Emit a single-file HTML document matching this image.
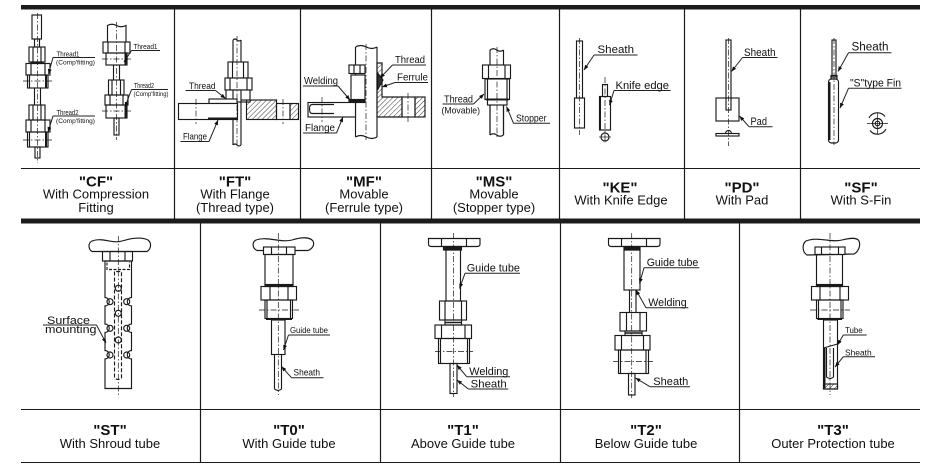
<!DOCTYPE html>
<html><head><meta charset="utf-8">
<style>
html,body{margin:0;padding:0;background:#fff;}
body{width:945px;height:471px;overflow:hidden;}
svg{display:block;}
.cap{font-family:"Liberation Sans",Arial,sans-serif;fill:#111;text-anchor:middle;}
.b{font-weight:bold;font-size:15px;}
.n{font-size:13px;}
.l{font-family:"Liberation Sans",Arial,sans-serif;fill:#111;}
</style></head>
<body>
<svg width="945" height="471" viewBox="0 0 945 471" xmlns="http://www.w3.org/2000/svg">
<defs>
<pattern id="h" width="3.5" height="3.5" patternUnits="userSpaceOnUse" patternTransform="rotate(45)">
<line x1="0" y1="0" x2="0" y2="3.5" stroke="#222" stroke-width="0.9"/></pattern>
<marker id="a" markerUnits="userSpaceOnUse" markerWidth="5" markerHeight="4" refX="5" refY="2" orient="auto">
<path d="M0,0 L5,2 L0,4 z" fill="#111"/></marker>
</defs>
<rect width="945" height="471" fill="#fff"/>

<!-- grid -->
<rect x="21" y="5" width="899" height="4.5" fill="#1c1c1c"/>
<rect x="21" y="218.5" width="899" height="5" fill="#1c1c1c"/>
<g stroke="#1a1a1a" stroke-width="1.2">
<line x1="174.5" y1="9" x2="174.5" y2="219"/>
<line x1="300.5" y1="9" x2="300.5" y2="219"/>
<line x1="431.5" y1="9" x2="431.5" y2="219"/>
<line x1="559.5" y1="9" x2="559.5" y2="219"/>
<line x1="684.5" y1="9" x2="684.5" y2="219"/>
<line x1="800.5" y1="9" x2="800.5" y2="219"/>
<line x1="200.5" y1="223" x2="200.5" y2="463"/>
<line x1="380.5" y1="223" x2="380.5" y2="463"/>
<line x1="560.5" y1="223" x2="560.5" y2="463"/>
<line x1="739.5" y1="223" x2="739.5" y2="463"/>
</g>
<g stroke="#1a1a1a" stroke-width="1">
<line x1="21" y1="168.5" x2="920" y2="168.5"/>
<line x1="21" y1="409.5" x2="920" y2="409.5"/>
<line x1="21" y1="462.5" x2="920" y2="462.5"/>
</g>

<!-- captions -->
<g class="cap">
<text class="b" x="96" y="186.5">"CF"</text>
<text class="n" x="96" y="198.7">With Compression</text>
<text class="n" x="96" y="212">Fitting</text>
<text class="b" x="235" y="186.5">"FT"</text>
<text class="n" x="235" y="198.7">With Flange</text>
<text class="n" x="235" y="212">(Thread type)</text>
<text class="b" x="364" y="186.5">"MF"</text>
<text class="n" x="364" y="198.7">Movable</text>
<text class="n" x="364" y="212">(Ferrule type)</text>
<text class="b" x="494" y="186.5">"MS"</text>
<text class="n" x="494" y="198.7">Movable</text>
<text class="n" x="494" y="212">(Stopper type)</text>
<text class="b" x="620" y="192.5">"KE"</text>
<text class="n" x="621" y="204.5">With Knife Edge</text>
<text class="b" x="742" y="192.5">"PD"</text>
<text class="n" x="742" y="204.5">With Pad</text>
<text class="b" x="861" y="192.5">"SF"</text>
<text class="n" x="861" y="204.5">With S-Fin</text>

<text class="b" x="110" y="435">"ST"</text>
<text class="n" x="110" y="448">With Shroud tube</text>
<text class="b" x="289" y="435">"T0"</text>
<text class="n" x="289" y="448">With Guide tube</text>
<text class="b" x="463" y="435">"T1"</text>
<text class="n" x="463" y="448">Above Guide tube</text>
<text class="b" x="646" y="435">"T2"</text>
<text class="n" x="646" y="448">Below Guide tube</text>
<text class="b" x="833" y="435">"T3"</text>
<text class="n" x="833" y="448">Outer Protection tube</text>
</g>

<!-- ============ drawings ============ -->
<g stroke="#1a1a1a" stroke-width="1.15" fill="none">

<!-- CF left -->
<rect x="32" y="15" width="9.5" height="24"/>
<rect x="34.5" y="39" width="5" height="8"/>
<rect x="29" y="47" width="16" height="15"/><line x1="33" y1="47" x2="33" y2="62"/><line x1="41" y1="47" x2="41" y2="62"/>
<rect x="31" y="62" width="12" height="1.5" fill="#1a1a1a"/>
<rect x="26" y="63.5" width="24" height="11.5"/><line x1="31" y1="63.5" x2="31" y2="75"/><line x1="45" y1="63.5" x2="45" y2="75"/>
<rect x="27.5" y="75" width="20.5" height="13"/><line x1="29.5" y1="75" x2="29.5" y2="88"/><line x1="46" y1="75" x2="46" y2="88" stroke-width="2"/>
<line x1="34.5" y1="88" x2="34.5" y2="105"/><line x1="40.5" y1="88" x2="40.5" y2="105"/>
<rect x="29" y="105" width="16" height="15"/><line x1="33" y1="105" x2="33" y2="120"/><line x1="41" y1="105" x2="41" y2="120"/>
<rect x="26" y="120" width="24" height="12"/><line x1="31" y1="120" x2="31" y2="132"/><line x1="45" y1="120" x2="45" y2="132"/>
<rect x="27.5" y="132" width="20.5" height="15"/><line x1="29.5" y1="132" x2="29.5" y2="147"/><line x1="46" y1="132" x2="46" y2="147" stroke-width="2"/>
<rect x="35" y="147" width="5" height="11"/>
<g stroke-width="0.7" stroke-dasharray="6 2 1.5 2"><line x1="37.5" y1="13" x2="37.5" y2="163"/><line x1="23" y1="81" x2="52" y2="81"/><line x1="23" y1="140" x2="52" y2="140"/></g>

<!-- CF right -->
<path d="M107.5,42 V25.5 q4.5,-2.5 9,0 t9.5,0 V42"/>
<rect x="103" y="42" width="27" height="11"/><line x1="108" y1="42" x2="108" y2="53"/><line x1="125" y1="42" x2="125" y2="53"/>
<rect x="106" y="53" width="21" height="12"/><line x1="125.5" y1="53" x2="125.5" y2="65" stroke-width="2"/>
<line x1="113.5" y1="65" x2="113.5" y2="80"/><line x1="119.5" y1="65" x2="119.5" y2="80"/>
<rect x="108.5" y="80" width="15.5" height="15"/><line x1="112" y1="80" x2="112" y2="95"/><line x1="120.5" y1="80" x2="120.5" y2="95"/>
<rect x="105" y="95" width="23" height="10"/><line x1="110" y1="95" x2="110" y2="105"/><line x1="123" y1="95" x2="123" y2="105"/>
<rect x="106" y="105" width="21" height="13"/><line x1="125.5" y1="105" x2="125.5" y2="118" stroke-width="2"/>
<rect x="114" y="118" width="5" height="17"/>
<g stroke-width="0.7" stroke-dasharray="6 2 1.5 2"><line x1="116.5" y1="22" x2="116.5" y2="140"/><line x1="102" y1="59" x2="131" y2="59"/><line x1="102" y1="111" x2="131" y2="111"/></g>

<!-- FT -->
<path d="M233,40 q2,-2 4,0 t4,0"/><path d="M233,145 q2,-2 4,0 t4,0"/>
<line x1="233" y1="40" x2="233" y2="145"/><line x1="241" y1="40" x2="241" y2="145"/>
<rect x="228" y="62" width="20" height="16" fill="#fff"/><line x1="232.5" y1="62" x2="232.5" y2="78"/><line x1="243.5" y1="62" x2="243.5" y2="78"/>
<rect x="225" y="78" width="27" height="12" fill="#fff"/><line x1="230" y1="78" x2="230" y2="90"/><line x1="247" y1="78" x2="247" y2="90"/>
<rect x="226" y="90" width="24" height="12" fill="#fff"/><line x1="233" y1="90" x2="233" y2="102"/><line x1="241" y1="90" x2="241" y2="102"/>
<rect x="209" y="99" width="28" height="4.5" fill="#fff"/>
<rect x="178.5" y="103.5" width="59" height="16" fill="#fff"/>
<line x1="208" y1="118.5" x2="238" y2="118.5" stroke-width="2"/>
<rect x="246.5" y="100" width="30" height="19.5" fill="url(#h)"/>
<rect x="276.5" y="103.5" width="13.5" height="16"/>
<rect x="290" y="103.5" width="8.5" height="16" fill="url(#h)"/>
<line x1="241" y1="100" x2="246.5" y2="100"/>
<g stroke-width="0.7" stroke-dasharray="6 2 1.5 2"><line x1="237" y1="36" x2="237" y2="148"/><line x1="196" y1="99" x2="196" y2="124"/><line x1="283" y1="99" x2="283" y2="124"/></g>

<!-- MF -->
<path d="M355.5,47 q5,-3 10.75,0 t10.75,0"/><path d="M355.5,137 q5,-3 10.75,0 t10.75,0"/>
<line x1="355.5" y1="47" x2="355.5" y2="137"/><line x1="377" y1="47" x2="377" y2="137"/>
<rect x="349" y="65" width="16" height="8.5" fill="#fff"/><line x1="354" y1="65" x2="354" y2="73.5"/><line x1="360" y1="65" x2="360" y2="73.5"/>
<rect x="351" y="75" width="14" height="25" fill="#fff"/>
<rect x="349" y="99.5" width="16" height="3" fill="#1a1a1a"/>
<rect x="308" y="102.5" width="47.5" height="14.5" fill="#fff"/>
<path d="M334,104.5 H312 q-2.5,0 -2.5,4.5 q0,4.5 2.5,4.5 H334"/>
<path d="M377,63 H382 V97 H402 V117 H377 Z" fill="url(#h)"/>
<rect x="402" y="97" width="13" height="20"/>
<rect x="415" y="97" width="10" height="20" fill="url(#h)"/>
<path d="M377.5,73 L383,80 L377.5,90 Z" fill="#333"/>
<g stroke-width="0.7" stroke-dasharray="6 2 1.5 2"><line x1="366" y1="44" x2="366" y2="140"/><line x1="322" y1="97" x2="322" y2="122"/><line x1="408" y1="93" x2="408" y2="122"/></g>

<!-- MS -->
<path d="M490,50 q3.4,-2.5 6.75,0 t6.75,0"/><path d="M490,135 q3.4,-2.5 6.75,0 t6.75,0"/>
<line x1="490" y1="50" x2="490" y2="135"/><line x1="503.5" y1="50" x2="503.5" y2="135"/>
<rect x="482.5" y="65" width="28" height="13.5" fill="#fff"/><line x1="488.5" y1="65" x2="488.5" y2="78.5"/><line x1="505" y1="65" x2="505" y2="78.5"/>
<rect x="485" y="79" width="24.5" height="20.5" fill="#fff"/><line x1="487.5" y1="79" x2="487.5" y2="99.5"/><line x1="507" y1="79" x2="507" y2="99.5"/>
<rect x="487.5" y="99.5" width="19.5" height="5.5" fill="#fff"/><line x1="486" y1="99.5" x2="508.5" y2="99.5" stroke-width="2"/>
<line x1="490" y1="105" x2="490" y2="135"/><line x1="503.5" y1="105" x2="503.5" y2="135"/>
<g stroke-width="0.7" stroke-dasharray="6 2 1.5 2"><line x1="497" y1="47" x2="497" y2="138"/></g>

<!-- KE -->
<rect x="576.5" y="41" width="6" height="57"/>
<rect x="574.5" y="98" width="10" height="30"/>
<rect x="602.5" y="84.5" width="5" height="12"/>
<rect x="599.5" y="96.5" width="11" height="33.5"/><line x1="600" y1="96.5" x2="600" y2="130" stroke-width="2"/>
<circle cx="605" cy="137" r="4"/><line x1="599" y1="137" x2="611" y2="137" stroke-width="0.7"/>
<g stroke-width="0.7" stroke-dasharray="6 2 1.5 2"><line x1="579.5" y1="38" x2="579.5" y2="135"/><line x1="605" y1="77" x2="605" y2="143"/></g>

<!-- PD -->
<rect x="726" y="40" width="5" height="70"/>
<rect x="716" y="98" width="23" height="23"/>
<path d="M725.5,133.5 a3,3 0 0 1 6,0"/>
<rect x="716" y="133.5" width="23" height="2.5"/>
<g stroke-width="0.7" stroke-dasharray="6 2 1.5 2"><line x1="728.5" y1="38" x2="728.5" y2="146"/></g>

<!-- SF -->
<rect x="832" y="40" width="4" height="37"/>
<rect x="831" y="75.5" width="6" height="3.5"/>
<rect x="828.5" y="79" width="10" height="64" rx="3"/>
<line x1="829.5" y1="82" x2="829.5" y2="140" stroke-width="2"/>
<circle cx="877.5" cy="123.5" r="5"/><circle cx="877.5" cy="123.5" r="2.3"/>
<path d="M869,118 a9.5,9.5 0 0 1 16,-1.5 M886,129 a9.5,9.5 0 0 1 -16,1.5"/>
<line x1="867" y1="123.5" x2="888" y2="123.5" stroke-width="0.7"/><line x1="877.5" y1="113" x2="877.5" y2="134" stroke-width="0.7"/>
<g stroke-width="0.7" stroke-dasharray="6 2 1.5 2"><line x1="834" y1="38" x2="834" y2="145"/></g>

<!-- ST -->
<path d="M92,251.5 C88,249 88,243 92,241 C103,237 112,244 122,241 C132,238 142,237 148,240 C152,243 151,249 147,251.5 Z" fill="#fff"/>
<rect x="102.5" y="251.5" width="30" height="9.5"/><line x1="110" y1="251.5" x2="110" y2="261"/><line x1="125" y1="251.5" x2="125" y2="261"/>
<path d="M105,261 V297.5 a4,4 0 0 1 0,8.5 V324 a4,4 0 0 1 0,8.5 V350.5 a4,4 0 0 1 0,8.5 V388.5 H131.5 V359 a4,4 0 0 1 0,-8.5 V332.5 a4,4 0 0 1 0,-8.5 V306 a4,4 0 0 1 0,-8.5 V261 Z"/>
<circle cx="110" cy="301.7" r="3"/><circle cx="126.7" cy="301.7" r="3"/>
<circle cx="110" cy="328.3" r="3"/><circle cx="126.7" cy="328.3" r="3"/>
<circle cx="110" cy="355" r="3"/><circle cx="126.7" cy="355" r="3"/>
<circle cx="118.3" cy="288.3" r="3"/><circle cx="118.3" cy="313.3" r="3"/><circle cx="118.3" cy="340" r="3"/>
<path d="M107,262.5 v7 h22.5 v-7" stroke-dasharray="3 1.5"/>
<path d="M114.5,271.5 V378 q3.5,3 7,0 V271.5 Z" stroke-dasharray="4 2"/>
<g stroke-width="0.7" stroke-dasharray="6 2 1.5 2"><line x1="118.3" y1="236" x2="118.3" y2="395"/></g>

<!-- T0 -->
<path d="M257,250.5 C252,248 252,242 256,240 C268,236 280,243 292,240 C302,237 310,237 313,241 C315,245 312,249 308,250.5 Z" fill="#fff"/>
<rect x="263.5" y="247" width="31.5" height="7.5" fill="#fff"/><line x1="271.5" y1="247" x2="271.5" y2="254.5"/><line x1="286.5" y1="247" x2="286.5" y2="254.5"/>
<rect x="265" y="254.5" width="28" height="30.5"/>
<rect x="265" y="284.5" width="28" height="2" fill="#1a1a1a"/>
<rect x="261" y="286.5" width="35.5" height="13.5"/><line x1="270" y1="286.5" x2="270" y2="300"/><line x1="288" y1="286.5" x2="288" y2="300"/>
<rect x="265" y="300" width="27.5" height="18.5"/><line x1="267" y1="300" x2="267" y2="318.5"/><line x1="290.5" y1="300" x2="290.5" y2="318.5"/>
<line x1="266" y1="319" x2="292" y2="319" stroke-width="2"/>
<rect x="271.5" y="320" width="13.5" height="34.5"/>
<path d="M274.5,354.5 V389 q3.5,3 7,0 V354.5"/>
<g stroke-width="0.7" stroke-dasharray="6 2 1.5 2"><line x1="278.3" y1="233" x2="278.3" y2="395"/><line x1="259" y1="310" x2="299" y2="310"/></g>

<!-- T1 -->
<path d="M428.5,238.5 H480 V244 q0,2.5 -3,2.5 H431.5 q-3,0 -3,-2.5 Z"/><line x1="441.5" y1="238.5" x2="441.5" y2="246.5"/><line x1="466.5" y1="238.5" x2="466.5" y2="246.5"/>
<rect x="443.5" y="246.5" width="18" height="3.5" fill="#1a1a1a"/>
<rect x="446" y="250" width="14.5" height="51"/>
<rect x="439.5" y="301" width="27" height="19"/><line x1="445" y1="301" x2="445" y2="320"/><line x1="461.5" y1="301" x2="461.5" y2="320"/>
<rect x="445" y="320" width="16.5" height="5"/><line x1="445" y1="322.5" x2="461.5" y2="322.5" stroke-width="1.5"/>
<rect x="435" y="325" width="36.5" height="13.5"/><line x1="441.5" y1="325" x2="441.5" y2="338.5"/><line x1="465" y1="325" x2="465" y2="338.5"/>
<rect x="438.5" y="338.5" width="31" height="25"/><line x1="440.5" y1="338.5" x2="440.5" y2="363.5"/><line x1="467.5" y1="338.5" x2="467.5" y2="363.5"/>
<rect x="450" y="363.5" width="7" height="30"/>
<g stroke-width="0.7" stroke-dasharray="6 2 1.5 2"><line x1="453.5" y1="233" x2="453.5" y2="397"/><line x1="435" y1="351.5" x2="473" y2="351.5"/></g>

<!-- T2 -->
<path d="M608.5,238.5 H660 V244 q0,2.5 -3,2.5 H611.5 q-3,0 -3,-2.5 Z"/><line x1="621.5" y1="238.5" x2="621.5" y2="246.5"/><line x1="646.5" y1="238.5" x2="646.5" y2="246.5"/>
<rect x="624" y="246.5" width="16" height="3.5" fill="#1a1a1a"/>
<rect x="624" y="250" width="16" height="40"/>
<line x1="629.5" y1="290" x2="629.5" y2="312.5"/><line x1="636" y1="290" x2="636" y2="312.5"/>
<rect x="620" y="312.5" width="26.5" height="18.5"/><line x1="626.5" y1="312.5" x2="626.5" y2="331"/><line x1="640" y1="312.5" x2="640" y2="331"/>
<rect x="625" y="331" width="17" height="4.5"/><line x1="625" y1="333" x2="642" y2="333" stroke-width="1.5"/>
<rect x="615" y="335.5" width="35" height="14.5"/><line x1="621.5" y1="335.5" x2="621.5" y2="350"/><line x1="643.5" y1="335.5" x2="643.5" y2="350"/>
<rect x="618.5" y="350" width="30" height="23.5"/><line x1="620.5" y1="350" x2="620.5" y2="373.5"/><line x1="646" y1="350" x2="646" y2="373.5"/>
<rect x="628.5" y="373.5" width="6.5" height="21.5"/>
<g stroke-width="0.7" stroke-dasharray="6 2 1.5 2"><line x1="631.7" y1="233" x2="631.7" y2="398"/><line x1="613" y1="361.5" x2="653" y2="361.5"/></g>

<!-- T3 -->
<path d="M807,255 C802,252 802,244 806,241 C818,236 830,243 842,240 C850,238 857,237 859,241 C861,246 858,252 854,254 Z" fill="#fff"/>
<rect x="815" y="247" width="30" height="7.5" fill="#fff"/><line x1="821.5" y1="247" x2="821.5" y2="254.5"/><line x1="838.5" y1="247" x2="838.5" y2="254.5"/>
<rect x="816.5" y="254.5" width="26" height="30.5"/>
<rect x="816.5" y="284.5" width="26" height="2" fill="#1a1a1a"/>
<rect x="811.5" y="286.5" width="37" height="13.5"/><line x1="820" y1="286.5" x2="820" y2="300"/><line x1="840" y1="286.5" x2="840" y2="300"/>
<rect x="816.5" y="300" width="26.5" height="18.5"/><line x1="818.5" y1="300" x2="818.5" y2="318.5"/><line x1="841" y1="300" x2="841" y2="318.5"/>
<line x1="817.5" y1="319" x2="842" y2="319" stroke-width="2"/>
<rect x="823.5" y="320" width="14" height="69"/>
<line x1="824.5" y1="348" x2="824.5" y2="388" stroke-width="2"/>
<line x1="823.5" y1="348" x2="837.5" y2="344"/>
<path d="M826.5,348 V377 q3.5,3 7,0 V348"/>
<rect x="823.5" y="384" width="14" height="5" fill="url(#h)"/>
<g stroke-width="0.7" stroke-dasharray="6 2 1.5 2"><line x1="830" y1="233" x2="830" y2="395"/><line x1="810" y1="310" x2="850" y2="310"/></g>
</g>

<!-- ============ leaders ============ -->
<g stroke="#222" stroke-width="1" fill="none">
<!-- CF -->
<line x1="53" y1="57.5" x2="95" y2="57.5"/><line x1="53" y1="57.5" x2="48.5" y2="74" marker-end="url(#a)"/>
<line x1="53" y1="116" x2="95" y2="116"/><line x1="53" y1="116" x2="48" y2="132" marker-end="url(#a)"/>
<line x1="131.5" y1="50.5" x2="160" y2="50.5"/><line x1="131.5" y1="50.5" x2="124" y2="62" marker-end="url(#a)"/>
<line x1="131.5" y1="89.5" x2="168" y2="89.5"/><line x1="131.5" y1="89.5" x2="125" y2="107" marker-end="url(#a)"/>
<!-- FT -->
<line x1="185.5" y1="90.5" x2="215.5" y2="90.5"/><line x1="215.5" y1="90.5" x2="225.5" y2="98.5" marker-end="url(#a)"/>
<line x1="180.5" y1="141.5" x2="209" y2="141.5"/><line x1="209" y1="141.5" x2="218" y2="120" marker-end="url(#a)"/>
<!-- MF -->
<line x1="392.5" y1="65" x2="426" y2="65"/><line x1="392.5" y1="65" x2="380" y2="78" marker-end="url(#a)"/>
<line x1="395" y1="82.5" x2="428" y2="82.5"/><line x1="395" y1="82.5" x2="382" y2="87" marker-end="url(#a)"/>
<line x1="303" y1="86" x2="338" y2="86"/><line x1="338" y1="86" x2="350" y2="100" marker-end="url(#a)"/>
<line x1="303" y1="133" x2="336.5" y2="133"/><line x1="336.5" y1="133" x2="343" y2="117" marker-end="url(#a)"/>
<!-- MS -->
<line x1="442.5" y1="104" x2="473.5" y2="104"/><line x1="473.5" y1="104" x2="484" y2="94" marker-end="url(#a)"/>
<line x1="513.5" y1="123.3" x2="550" y2="123.3"/><line x1="513.5" y1="123.3" x2="506.5" y2="106.5" marker-end="url(#a)"/>
<!-- KE -->
<line x1="594" y1="55" x2="637.5" y2="55"/><line x1="594" y1="55" x2="584" y2="70" marker-end="url(#a)"/>
<line x1="614" y1="90.5" x2="670.5" y2="90.5"/><line x1="614" y1="90.5" x2="609.5" y2="105" marker-end="url(#a)"/>
<!-- PD -->
<line x1="742.5" y1="57.5" x2="777.5" y2="57.5"/><line x1="742.5" y1="57.5" x2="731.5" y2="71.5" marker-end="url(#a)"/>
<line x1="749" y1="126.7" x2="772.5" y2="126.7"/><line x1="749" y1="126.7" x2="739.5" y2="116" marker-end="url(#a)"/>
<!-- SF -->
<line x1="848.5" y1="52.7" x2="891.5" y2="52.7"/><line x1="848.5" y1="52.7" x2="838" y2="71.5" marker-end="url(#a)"/>
<line x1="848.5" y1="88.3" x2="901.5" y2="88.3"/><line x1="848.5" y1="88.3" x2="840" y2="108" marker-end="url(#a)"/>
<!-- ST -->
<line x1="43" y1="325" x2="96.5" y2="325"/><line x1="96.5" y1="325" x2="106" y2="343" marker-end="url(#a)"/>
<!-- T0 -->
<line x1="288.5" y1="335" x2="330" y2="335"/><line x1="288.5" y1="335" x2="283.5" y2="350" marker-end="url(#a)"/>
<line x1="291.5" y1="377.7" x2="323.5" y2="377.7"/><line x1="291.5" y1="377.7" x2="281.5" y2="366.5" marker-end="url(#a)"/>
<!-- T1 -->
<line x1="465" y1="273.3" x2="520" y2="273.3"/><line x1="465" y1="273.3" x2="459.5" y2="288.5" marker-end="url(#a)"/>
<line x1="466.7" y1="376.7" x2="510" y2="376.7"/><line x1="466.7" y1="376.7" x2="457" y2="365" marker-end="url(#a)"/>
<line x1="468.3" y1="389" x2="508.3" y2="389"/><line x1="468.3" y1="389" x2="457" y2="380" marker-end="url(#a)"/>
<!-- T2 -->
<line x1="644" y1="267.7" x2="699.3" y2="267.7"/><line x1="644" y1="267.7" x2="639.5" y2="283.5" marker-end="url(#a)"/>
<line x1="646" y1="307.7" x2="688.3" y2="307.7"/><line x1="646" y1="307.7" x2="636" y2="290" marker-end="url(#a)"/>
<line x1="650" y1="386.7" x2="690" y2="386.7"/><line x1="650" y1="386.7" x2="635.5" y2="378" marker-end="url(#a)"/>
<!-- T3 -->
<line x1="843.3" y1="335" x2="866.7" y2="335"/><line x1="843.3" y1="335" x2="837.5" y2="345" marker-end="url(#a)"/>
<line x1="843.3" y1="356.7" x2="875" y2="356.7"/><line x1="843.3" y1="356.7" x2="835" y2="367" marker-end="url(#a)"/>
</g>

<!-- ============ labels ============ -->
<g class="l">
<text x="56.5" y="56.3" font-size="7" textLength="23" lengthAdjust="spacingAndGlyphs">Thread1</text>
<text x="56" y="64.5" font-size="6.5" textLength="39" lengthAdjust="spacingAndGlyphs">(Comp'fitting)</text>
<text x="56.5" y="114.8" font-size="7" textLength="22" lengthAdjust="spacingAndGlyphs">Thread2</text>
<text x="56" y="123" font-size="6.5" textLength="39" lengthAdjust="spacingAndGlyphs">(Comp'fitting)</text>
<text x="133.5" y="49" font-size="7" textLength="24" lengthAdjust="spacingAndGlyphs">Thread1</text>
<text x="134" y="88" font-size="7" textLength="20" lengthAdjust="spacingAndGlyphs">Thread2</text>
<text x="133.5" y="96" font-size="6.5" textLength="35" lengthAdjust="spacingAndGlyphs">(Comp'fitting)</text>

<text x="189" y="89" font-size="9" textLength="26.5" lengthAdjust="spacingAndGlyphs">Thread</text>
<text x="183" y="139.5" font-size="9" textLength="24" lengthAdjust="spacingAndGlyphs">Flange</text>

<text x="395" y="63" font-size="10" textLength="30" lengthAdjust="spacingAndGlyphs">Thread</text>
<text x="397" y="80.5" font-size="10" textLength="31" lengthAdjust="spacingAndGlyphs">Ferrule</text>
<text x="304" y="84" font-size="10" textLength="34" lengthAdjust="spacingAndGlyphs">Welding</text>
<text x="305" y="131" font-size="10" textLength="30" lengthAdjust="spacingAndGlyphs">Flange</text>

<text x="444" y="102.5" font-size="10" textLength="29" lengthAdjust="spacingAndGlyphs">Thread</text>
<text x="441.5" y="113.5" font-size="9.5" textLength="38.5" lengthAdjust="spacingAndGlyphs">(Movable)</text>
<text x="516" y="121.5" font-size="10" textLength="30.5" lengthAdjust="spacingAndGlyphs">Stopper</text>

<text x="597.5" y="53" font-size="11" textLength="36.5" lengthAdjust="spacingAndGlyphs">Sheath</text>
<text x="615.5" y="89" font-size="11" textLength="53.5" lengthAdjust="spacingAndGlyphs">Knife  edge</text>

<text x="744" y="56" font-size="11" textLength="31.5" lengthAdjust="spacingAndGlyphs">Sheath</text>
<text x="750.5" y="125" font-size="11" textLength="16.5" lengthAdjust="spacingAndGlyphs">Pad</text>

<text x="851.5" y="50.5" font-size="11.5" textLength="37" lengthAdjust="spacingAndGlyphs">Sheath</text>
<text x="850" y="86.5" font-size="11" textLength="51" lengthAdjust="spacingAndGlyphs">"S"type Fin</text>

<text x="47" y="324" font-size="11" textLength="43" lengthAdjust="spacingAndGlyphs">Surface</text>
<text x="45" y="333" font-size="11" textLength="51.5" lengthAdjust="spacingAndGlyphs">mounting</text>

<text x="290" y="333" font-size="8.5" textLength="38" lengthAdjust="spacingAndGlyphs">Guide tube</text>
<text x="293.5" y="375.5" font-size="9" textLength="26.5" lengthAdjust="spacingAndGlyphs">Sheath</text>

<text x="466.7" y="271.5" font-size="11" textLength="53.3" lengthAdjust="spacingAndGlyphs">Guide  tube</text>
<text x="469.3" y="375" font-size="11" textLength="39" lengthAdjust="spacingAndGlyphs">Welding</text>
<text x="470.7" y="387.5" font-size="11" textLength="36" lengthAdjust="spacingAndGlyphs">Sheath</text>

<text x="646.7" y="266" font-size="11" textLength="51.6" lengthAdjust="spacingAndGlyphs">Guide  tube</text>
<text x="648.3" y="306" font-size="11" textLength="38.4" lengthAdjust="spacingAndGlyphs">Welding</text>
<text x="653.3" y="385" font-size="11" textLength="35" lengthAdjust="spacingAndGlyphs">Sheath</text>

<text x="845" y="333" font-size="8.5" textLength="17.7" lengthAdjust="spacingAndGlyphs">Tube</text>
<text x="845" y="355.5" font-size="8.5" textLength="26.7" lengthAdjust="spacingAndGlyphs">Sheath</text>
</g>
</svg>
</body></html>
